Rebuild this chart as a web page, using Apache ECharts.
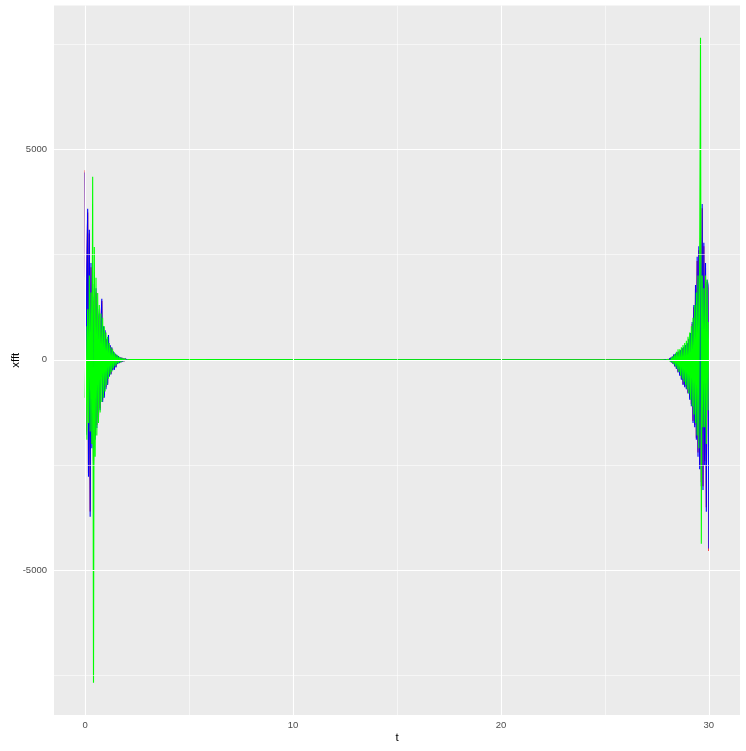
<!DOCTYPE html>
<html><head><meta charset="utf-8">
<script src="https://cdn.jsdelivr.net/npm/echarts@6/dist/echarts.min.js"></script>
<style>html,body{margin:0;padding:0;background:#fff}#c{width:746px;height:751px}</style>
</head><body><div id="c"></div>
<script>
// sampling grid of the two bursts (t values)
const tStep = 0.04;
const leftStart = 0;
const rightStart = 27.8;

// values, burst near t = 0 (t = 0, 0.04, ... 2.2)
const redLeft = [4500, -1700, 2100, 3500, -2700, 3000, -3600, 2200, -2000, 1700,
 -2400, 1400, -1800, 1600, -1550, 1150, -1350, 1050, -1150, 850,
 1400, -950, 750, -850, 650, -650, 480, -560, 550, -380,
 330, -330, 280, -240, 190, -220, 140, -170, 110, -95,
 85, -75, 55, -55, 45, -38, 28, -28, 22, -18,
 14, -11, 9, -7, 4, -2];
const blueLeft = [4450, -1780, 2200, 3590, -2780, 3090, -3730, 2300, -2100, 1800,
 -2450, 1500, -1900, 1700, -1620, 1200, -1400, 1100, -1200, 900,
 1450, -1000, 800, -900, 700, -700, 500, -600, 590, -400,
 350, -350, 300, -250, 200, -240, 150, -180, 120, -100,
 90, -80, 60, -60, 50, -40, 30, -30, 25, -20,
 15, -12, 10, -8, 5, -3];
const greenLeft = [-900, 800, -1900, 1200, -1500, 2000, -1700, 1600, -2000, 4350,
 -7670, 2680, -2300, 1950, -1800, 1590, -1500, 1300, -1250, 1100,
 -1000, 1000, -900, 800, -750, 650, -600, 550, -450, 400,
 -350, 300, -280, 250, -200, 180, -150, 130, -110, 100,
 -80, 70, -60, 50, -40, 35, -30, 25, -20, 15,
 -12, 10, -8, 6, -4, 2];

// values, burst near t = 30 (t = 27.8, 27.84, ... 30)
const redRight = [-2, 3, -5, 7, -9, 12, -16, 22, -30, 40,
 -55, 70, -90, 120, -150, 140, -200, 170, -280, 190,
 -350, 220, -450, 260, -580, 300, -620, 330, -680, 380,
 -780, 480, -900, 620, -1050, 850, -1450, 1250, -1550, 1700,
 -1850, 2350, -2200, 2600, -2500, 2800, -2900, 3600, -3000, 2700,
 -2400, 2200, -3500, 1850, 1700, -4540];
const blueRight = [-3, 4, -6, 8, -10, 14, -18, 25, -35, 45,
 -60, 80, -100, 130, -160, 150, -220, 180, -300, 200,
 -380, 230, -470, 280, -600, 310, -650, 350, -700, 400,
 -800, 500, -950, 640, -1100, 900, -1500, 1300, -1600, 1780,
 -1900, 2450, -2300, 2700, -2600, 2900, -3000, 3700, -3090, 2780,
 -2500, 2300, -3610, 1900, 1780, -4480];
const greenRight = [2, -3, 5, -6, 8, -10, 15, -20, 30, -40,
 55, -70, 90, -110, 130, -160, 190, -220, 250, -290,
 250, -380, 300, -450, 350, -520, 400, -600, 450, -700,
 550, -800, 650, -950, 800, -1100, 1000, -1300, 1300, -1500,
 1600, -1800, 2000, -2100, 2400, 7650, -4370, 2000, -1600, 1700,
 -1600, 2000, -2000, 1900, -1200, 900];

const xMajor = [0, 10, 20, 30];
const xMinor = [5, 15, 25];
const yMajor = [-5000, 0, 5000];
const yMinor = [-7500, -2500, 2500, 7500];

function toPairs(left, right) {
  const out = [];
  left.forEach((v, i) => out.push([+(leftStart + i * tStep).toFixed(2), v]));
  right.forEach((v, i) => out.push([+(rightStart + i * tStep).toFixed(2), v]));
  return out;
}

const FONT = 'Liberation Sans, Arial, sans-serif';
const gridLines = [];
xMinor.forEach(v => gridLines.push({xAxis: v, lineStyle: {width: 0.55}}));
yMinor.forEach(v => gridLines.push({yAxis: v, lineStyle: {width: 0.55}}));
xMajor.forEach(v => gridLines.push({xAxis: v, lineStyle: {width: 1.1}}));
yMajor.forEach(v => gridLines.push({yAxis: v, lineStyle: {width: 1.1}}));

function lineSeries(name, color, data) {
  return {
    name, type: 'line', data, z: 3, showSymbol: false, symbol: 'none',
    lineStyle: {color, width: 1.1}, itemStyle: {color}, animation: false, silent: true
  };
}

const chart = echarts.init(document.getElementById('c'), null, {renderer: 'canvas'});
chart.setOption({
  animation: false,
  backgroundColor: '#ffffff',
  grid: {left: 54, right: 6, top: 5.5, bottom: 36, show: true, backgroundColor: '#EBEBEB', borderWidth: 0,
    containLabel: false, outerBoundsMode: 'none'},
  xAxis: {
    type: 'value', min: -1.5, max: 31.5,
    splitLine: {show: false}, axisLine: {show: false},
    axisTick: {show: true, customValues: xMajor, length: 3.6, lineStyle: {color: '#333333', width: 1}},
    axisLabel: {customValues: xMajor, color: '#4D4D4D', fontSize: 9.5, margin: 5, fontFamily: FONT,
      formatter: v => String(v)},
    name: 't', nameLocation: 'middle', nameGap: 17, nameMoveOverlap: false,
    nameTextStyle: {color: '#000', fontSize: 11.5, fontFamily: FONT}
  },
  yAxis: {
    type: 'value', min: -8436, max: 8416,
    splitLine: {show: false}, axisLine: {show: false},
    axisTick: {show: true, customValues: yMajor, length: 3.6, lineStyle: {color: '#333333', width: 1}},
    axisLabel: {customValues: yMajor, color: '#4D4D4D', fontSize: 9.5, margin: 7, fontFamily: FONT,
      formatter: v => String(v)},
    name: 'xfft', nameLocation: 'middle', nameGap: 32, nameRotate: 90, nameMoveOverlap: false,
    nameTextStyle: {color: '#000', fontSize: 11.5, fontFamily: FONT}
  },
  series: [
    {
      type: 'line', data: [], z: 1, silent: true,
      markLine: {silent: true, symbol: ['none', 'none'], label: {show: false}, animation: false,
        lineStyle: {color: '#ffffff', type: 'solid'}, data: gridLines}
    },
    lineSeries('red', '#FF0000', toPairs(redLeft, redRight)),
    lineSeries('blue', '#0000FF', toPairs(blueLeft, blueRight)),
    lineSeries('green', '#00FF00', toPairs(greenLeft, greenRight))
  ]
});
</script>
</body></html>
